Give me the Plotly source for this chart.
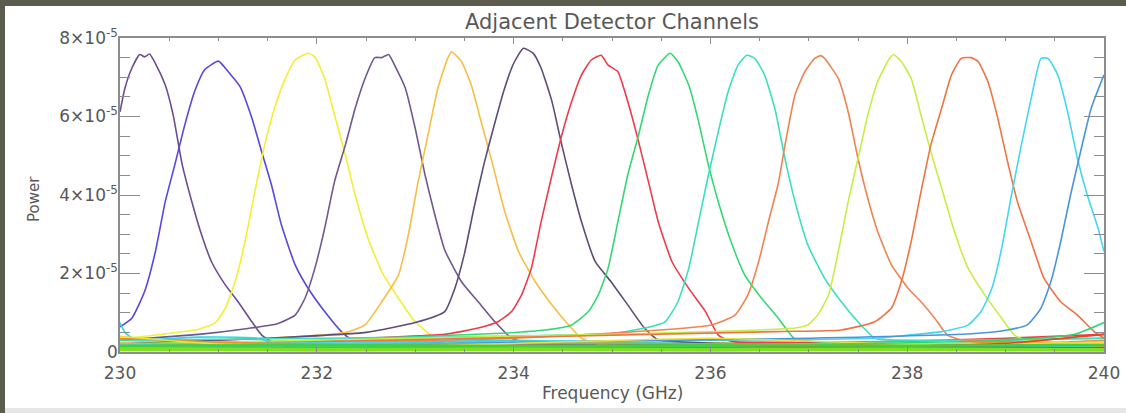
import plotly.graph_objects as go

UNIT = 1e-5  # values below are in units of 1e-5

# ---- channel curves (frequency GHz, power in 1e-5) ----
ch01_f = [230.0, 230.05, 230.12, 230.2, 230.25, 230.3, 230.36, 230.46, 230.54, 230.63, 230.73, 230.83, 230.93, 231.07, 231.2, 231.34, 231.44, 231.57, 231.71, 232.2, 233.0, 234.0, 235.5, 237.0, 238.5, 240.0]
ch01_p = [6.12, 6.72, 7.23, 7.58, 7.52, 7.59, 7.35, 6.80, 6.04, 4.80, 3.83, 2.98, 2.30, 1.71, 1.28, 0.77, 0.43, 0.22, 0.14, 0.15, 0.20, 0.18, 0.15, 0.12, 0.15, 0.12]

ch02_f = [230.0, 230.12, 230.25, 230.36, 230.46, 230.56, 230.66, 230.76, 230.86, 231.0, 231.1, 231.22, 231.34, 231.44, 231.54, 231.64, 231.78, 231.91, 232.08, 232.25, 232.35, 232.6, 233.5, 234.5, 236.0, 238.0, 240.0]
ch02_p = [0.64, 0.86, 1.54, 2.56, 3.83, 4.80, 5.80, 6.65, 7.19, 7.41, 7.14, 6.76, 5.96, 5.10, 4.25, 3.24, 2.22, 1.63, 1.03, 0.52, 0.33, 0.30, 0.22, 0.20, 0.15, 0.12, 0.10]

ch03_f = [230.0, 230.46, 230.8, 230.97, 231.07, 231.17, 231.27, 231.37, 231.47, 231.57, 231.68, 231.78, 231.91, 231.98, 232.08, 232.18, 232.29, 232.39, 232.52, 232.66, 232.83, 233.0, 233.2, 233.3, 234.0, 235.5, 237.0, 240.0]
ch03_p = [0.33, 0.46, 0.58, 0.75, 1.12, 1.79, 2.81, 4.08, 5.27, 6.21, 6.97, 7.44, 7.61, 7.52, 6.97, 6.04, 5.02, 4.00, 2.90, 2.05, 1.37, 0.77, 0.35, 0.25, 0.22, 0.25, 0.20, 0.15]

ch04_f = [230.0, 230.8, 231.3, 231.6, 231.78, 231.88, 231.98, 232.08, 232.18, 232.29, 232.39, 232.49, 232.59, 232.66, 232.73, 232.79, 232.9, 233.0, 233.1, 233.2, 233.3, 233.47, 233.64, 233.81, 233.98, 234.08, 235.0, 237.0, 240.0]
ch04_p = [0.30, 0.45, 0.60, 0.72, 0.94, 1.37, 2.13, 3.15, 4.34, 5.27, 6.21, 6.97, 7.50, 7.50, 7.58, 7.31, 6.72, 5.70, 4.51, 3.49, 2.60, 1.79, 1.28, 0.77, 0.35, 0.27, 0.20, 0.15, 0.12]

ch05_f = [230.0, 231.5, 232.3, 232.49, 232.66, 232.83, 232.93, 233.03, 233.13, 233.23, 233.33, 233.37, 233.47, 233.57, 233.67, 233.78, 233.91, 234.05, 234.22, 234.39, 234.56, 234.69, 234.83, 236.0, 238.0, 240.0]
ch05_p = [0.25, 0.35, 0.50, 0.69, 1.28, 1.96, 2.98, 4.34, 5.53, 6.72, 7.48, 7.65, 7.40, 6.80, 5.87, 4.85, 3.58, 2.56, 1.79, 1.20, 0.69, 0.35, 0.22, 0.30, 0.20, 0.25]

ch06_f = [230.0, 231.5, 232.5, 233.0, 233.3, 233.4, 233.5, 233.6, 233.7, 233.8, 233.9, 234.0, 234.1, 234.2, 234.28, 234.39, 234.49, 234.59, 234.69, 234.83, 234.99, 235.16, 235.33, 235.47, 236.5, 238.0, 240.0]
ch06_p = [0.20, 0.35, 0.50, 0.75, 1.03, 1.60, 2.50, 3.70, 4.80, 5.75, 6.65, 7.35, 7.74, 7.61, 7.23, 6.38, 5.27, 4.25, 3.32, 2.30, 1.79, 1.20, 0.61, 0.31, 0.20, 0.15, 0.10]

ch07_f = [230.0, 232.0, 232.5, 233.3, 233.64, 233.84, 233.98, 234.08, 234.18, 234.28, 234.39, 234.49, 234.59, 234.69, 234.79, 234.89, 234.96, 235.06, 235.16, 235.27, 235.37, 235.47, 235.61, 235.78, 235.95, 236.08, 236.22, 237.5, 239.0, 240.0]
ch07_p = [0.15, 0.25, 0.35, 0.45, 0.61, 0.77, 1.03, 1.45, 2.13, 3.32, 4.51, 5.53, 6.38, 7.06, 7.44, 7.56, 7.31, 7.14, 6.38, 5.36, 4.34, 3.32, 2.30, 1.62, 1.03, 0.43, 0.27, 0.25, 0.35, 0.45]

ch08_f = [230.0, 232.0, 233.81, 234.32, 234.59, 234.76, 234.86, 234.96, 235.06, 235.16, 235.27, 235.37, 235.47, 235.59, 235.67, 235.78, 235.88, 235.98, 236.08, 236.21, 236.35, 236.52, 236.69, 236.86, 237.2, 238.5, 240.0]
ch08_p = [0.20, 0.30, 0.47, 0.56, 0.69, 1.03, 1.45, 2.13, 3.32, 4.51, 5.53, 6.55, 7.31, 7.61, 7.40, 6.80, 5.87, 4.76, 3.83, 2.81, 1.96, 1.37, 0.86, 0.33, 0.25, 0.30, 0.35]

ch09_f = [230.0, 232.0, 234.99, 235.33, 235.54, 235.67, 235.78, 235.88, 235.98, 236.08, 236.18, 236.28, 236.37, 236.45, 236.55, 236.66, 236.76, 236.86, 236.99, 237.16, 237.33, 237.5, 237.67, 237.81, 239.0, 240.0]
ch09_p = [0.30, 0.35, 0.47, 0.61, 0.77, 1.28, 2.13, 3.32, 4.51, 5.61, 6.63, 7.31, 7.56, 7.48, 7.06, 6.15, 4.90, 3.83, 2.73, 1.88, 1.28, 0.77, 0.35, 0.31, 0.30, 0.35]

ch10_f = [230.0, 234.0, 236.01, 236.25, 236.38, 236.49, 236.59, 236.69, 236.76, 236.86, 236.96, 237.06, 237.12, 237.16, 237.3, 237.4, 237.5, 237.6, 237.7, 237.84, 238.01, 238.14, 238.28, 238.41, 238.55, 239.5, 240.0]
ch10_p = [0.15, 0.35, 0.69, 0.94, 1.45, 2.30, 3.32, 4.30, 5.30, 6.55, 7.14, 7.48, 7.55, 7.48, 6.97, 6.12, 4.93, 3.91, 3.07, 2.22, 1.62, 1.28, 0.86, 0.43, 0.31, 0.25, 0.30]

ch11_f = [230.0, 235.0, 236.86, 236.99, 237.09, 237.2, 237.3, 237.4, 237.5, 237.6, 237.7, 237.81, 237.86, 237.94, 238.04, 238.14, 238.24, 238.35, 238.48, 238.62, 238.79, 238.96, 239.09, 239.2, 240.0]
ch11_p = [0.20, 0.45, 0.61, 0.69, 0.94, 1.45, 2.56, 3.83, 4.93, 6.04, 6.89, 7.44, 7.58, 7.40, 6.97, 6.04, 5.10, 4.17, 3.07, 2.13, 1.45, 0.86, 0.43, 0.31, 0.20]

ch12_f = [230.0, 236.66, 237.33, 237.67, 237.84, 237.94, 238.04, 238.14, 238.24, 238.35, 238.45, 238.55, 238.65, 238.72, 238.82, 238.92, 239.02, 239.12, 239.26, 239.39, 239.56, 239.73, 239.9, 240.0]
ch12_p = [0.15, 0.52, 0.56, 0.77, 1.12, 1.79, 2.81, 4.08, 5.27, 6.21, 7.06, 7.48, 7.50, 7.40, 6.89, 5.96, 4.85, 3.83, 2.81, 1.88, 1.28, 0.94, 0.52, 0.35]

ch13_f = [230.0, 236.0, 237.67, 238.01, 238.35, 238.62, 238.75, 238.86, 238.96, 239.06, 239.16, 239.26, 239.36, 239.43, 239.53, 239.63, 239.73, 239.83, 239.94, 240.0]
ch13_p = [0.20, 0.30, 0.35, 0.43, 0.52, 0.69, 1.03, 1.62, 2.64, 4.00, 5.27, 6.46, 7.48, 7.48, 7.06, 6.12, 4.93, 4.00, 3.15, 2.56]

ch14_f = [230.0, 237.0, 238.69, 239.02, 239.22, 239.36, 239.46, 239.56, 239.66, 239.77, 239.87, 240.0]
ch14_p = [0.10, 0.35, 0.47, 0.56, 0.69, 1.12, 1.79, 2.81, 4.00, 5.19, 6.21, 7.06]

# ---- low-level out-of-band channels near the floor ----
low_cyan_f = [230.0, 230.05, 230.15, 230.8, 231.4, 231.6, 232.3, 233.0, 234.0, 236.0, 240.0]
low_cyan_p = [0.75, 0.50, 0.32, 0.38, 0.35, 0.20, 0.12, 0.25, 0.30, 0.20, 0.15]
low_orange_f = [230.0, 231.0, 232.0, 235.0, 238.0, 239.0, 240.0]
low_orange_p = [0.35, 0.25, 0.20, 0.22, 0.18, 0.25, 0.15]
low_yellow_f = [230.0, 231.0, 233.0, 236.0, 238.0, 240.0]
low_yellow_p = [0.40, 0.20, 0.15, 0.35, 0.20, 0.25]
low_red_f = [230.0, 236.0, 238.0, 239.0, 240.0]
low_red_p = [0.10, 0.12, 0.15, 0.22, 0.45]
low_green_f = [230.0, 236.0, 239.0, 239.7, 240.0]
low_green_p = [0.12, 0.15, 0.30, 0.45, 0.75]
floor_green_f = [230.0, 232.0, 234.0, 236.0, 238.0, 240.0]
floor_green_p = [0.16, 0.18, 0.15, 0.17, 0.16, 0.18]
floor_lime_f = [230.0, 232.0, 234.0, 236.0, 238.0, 240.0]
floor_lime_p = [0.07, 0.06, 0.07, 0.06, 0.07, 0.06]

channels = [
    (ch01_f, ch01_p, "#6B4E8E"),
    (ch02_f, ch02_p, "#5548E0"),
    (ch03_f, ch03_p, "#F4EE36"),
    (ch04_f, ch04_p, "#6E5890"),
    (ch05_f, ch05_p, "#F6BE45"),
    (ch06_f, ch06_p, "#5E4C78"),
    (ch07_f, ch07_p, "#EE3B4B"),
    (ch08_f, ch08_p, "#33D873"),
    (ch09_f, ch09_p, "#3ADFC0"),
    (ch10_f, ch10_p, "#F08352"),
    (ch11_f, ch11_p, "#C6EE45"),
    (ch12_f, ch12_p, "#EE7444"),
    (ch13_f, ch13_p, "#45D6F0"),
    (ch14_f, ch14_p, "#4A94DE"),
]
low_lines = [
    (low_cyan_f, low_cyan_p, "#30D8E0", 1.6),
    (low_orange_f, low_orange_p, "#F09020", 1.6),
    (low_yellow_f, low_yellow_p, "#E8E040", 1.6),
    (low_red_f, low_red_p, "#F04020", 1.6),
    (low_green_f, low_green_p, "#30D870", 1.6),
    (floor_green_f, floor_green_p, "#40D040", 2.5),
    (floor_lime_f, floor_lime_p, "#7FE020", 4.0),
]

x_ticks = [230, 232, 234, 236, 238, 240]
x_ticktext = ["230", "232", "234", "236", "238", "240"]
y_ticks = [0, 2, 4, 6, 8]
y_ticktext = ["0", "2×10<sup>-5</sup>", "4×10<sup>-5</sup>", "6×10<sup>-5</sup>", "8×10<sup>-5</sup>"]

fig = go.Figure()
for f, p, c in channels:
    fig.add_trace(go.Scatter(x=f, y=[v * UNIT for v in p], mode="lines",
                             line=dict(color=c, width=1.6, shape="spline", smoothing=0.5),
                             showlegend=False, hoverinfo="skip"))
for f, p, c, w in low_lines:
    fig.add_trace(go.Scatter(x=f, y=[v * UNIT for v in p], mode="lines",
                             line=dict(color=c, width=w, shape="spline", smoothing=0.5),
                             showlegend=False, hoverinfo="skip"))

AX = "#8c8c8c"
TXT = "#585858"
FONT = "DejaVu Sans"

fig.update_layout(
    width=1126, height=413,
    margin=dict(l=120, r=22, t=38, b=61),
    paper_bgcolor="white", plot_bgcolor="white",
    font=dict(family=FONT, color=TXT, size=17),
    title=dict(text="Adjacent Detector Channels", x=0.5, xref="paper", xanchor="center",
               y=1 - 22 / 413, yref="container", yanchor="middle",
               font=dict(family=FONT, size=21, color=TXT)),
    xaxis=dict(range=[230, 240], tickvals=x_ticks, ticktext=x_ticktext, automargin=False,
               showgrid=False, zeroline=False, showline=True, linecolor=AX, linewidth=1.5,
               mirror="allticks", ticks="inside", ticklen=6, tickwidth=1.2, tickcolor=AX,
               ticklabelstandoff=5,
               minor=dict(dtick=0.5, ticks="inside", ticklen=3, tickcolor=AX, tickwidth=1.2),
               tickfont=dict(family=FONT, size=17, color=TXT)),
    yaxis=dict(range=[0, 8 * UNIT], tickvals=[v * UNIT for v in y_ticks], ticktext=y_ticktext,
               automargin=False,
               showgrid=False, zeroline=False, showline=True, linecolor=AX, linewidth=1.5,
               mirror="allticks", ticks="inside", ticklen=20, tickwidth=1.2, tickcolor=AX,
               ticklabelstandoff=-3,
               minor=dict(dtick=0.5 * UNIT, ticks="inside", ticklen=10, tickcolor=AX, tickwidth=1.2),
               tickfont=dict(family=FONT, size=17, color=TXT)),
    annotations=[
        dict(text="Frequency (GHz)", xref="paper", yref="paper", x=0.5, y=(352 - 393) / 314,
             xanchor="center", yanchor="middle", showarrow=False,
             font=dict(family=FONT, size=17, color=TXT)),
        dict(text="Power", xref="paper", yref="paper", x=(34 - 120) / 984, y=(352 - 199) / 314,
             xanchor="center", yanchor="middle", showarrow=False, textangle=-90,
             font=dict(family=FONT, size=15, color=TXT)),
    ],
    shapes=[
        dict(type="rect", xref="paper", yref="paper", x0=-0.125, x1=1.03,
             y0=(352 - 6) / 314, y1=1.13, fillcolor="#5B5B4E", line=dict(width=0), layer="above"),
        dict(type="rect", xref="paper", yref="paper", x0=-0.125, x1=(5 - 120) / 984,
             y0=-0.2, y1=1.13, fillcolor="#5B5B4E", line=dict(width=0), layer="above"),
        dict(type="rect", xref="paper", yref="paper", x0=(5 - 120) / 984, x1=1.03,
             y0=-0.2, y1=(352 - 408) / 314, fillcolor="#E6E6E6", line=dict(width=0), layer="above"),
    ],
)

fig.write_html("out.html", config={"displayModeBar": False},
               post_script="document.body.style.margin='0';document.body.style.overflow='hidden';")
